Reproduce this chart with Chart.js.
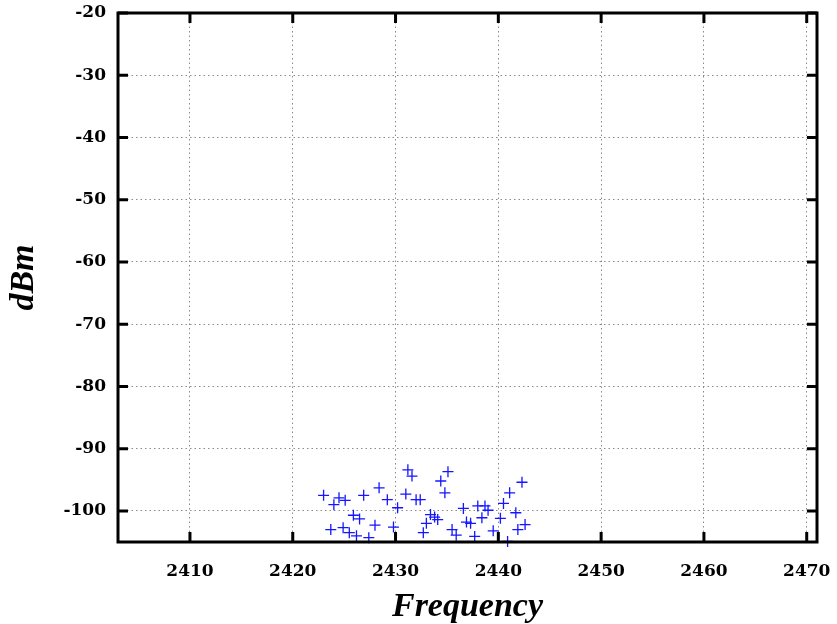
<!DOCTYPE html>
<html>
<head>
<meta charset="utf-8">
<script src="https://cdn.jsdelivr.net/npm/chart.js@4/dist/chart.umd.min.js"></script>
<style>
  html, body { margin: 0; padding: 0; background: #fff; }
  #wrap { width: 837px; height: 624px; }
</style>
</head>
<body>
<div id="wrap"><canvas id="scan"></canvas></div>
<script>
// frequency of each captured point
const freq = [
    2423.0, 2424.0, 2424.5, 2425.1, 2426.9, 2428.4, 2429.2, 2430.2, 2431.0, 2431.2,
    2431.6, 2432.0, 2432.4, 2425.9, 2426.5, 2423.7, 2424.9, 2425.5, 2426.2, 2427.4,
    2428.0, 2429.8, 2432.7, 2433.0, 2435.1, 2434.4, 2434.8, 2442.3, 2441.1, 2440.5,
    2441.7, 2436.6, 2438.0, 2438.7, 2439.0, 2438.4, 2440.2, 2436.9, 2437.3, 2433.4,
    2433.8, 2434.1, 2435.5, 2435.9, 2437.7, 2439.5, 2442.6, 2441.9, 2440.9
];
// power in dBm for the same points
const dbm = [
    -97.5, -99.0, -97.9, -98.3, -97.5, -96.3, -98.2, -99.5, -97.3, -93.4,
    -94.4, -98.2, -98.2, -100.7, -101.3, -103.0, -102.7, -103.5, -104.0, -104.3,
    -102.3, -102.6, -103.5, -102.0, -93.7, -95.2, -97.1, -95.4, -97.1, -98.8,
    -100.3, -99.6, -99.2, -99.2, -99.9, -101.1, -101.2, -101.8, -102.0, -100.6,
    -101.0, -101.4, -103.0, -103.9, -104.1, -103.2, -102.2, -103.0, -104.9
];
const xTicks = [2410, 2420, 2430, 2440, 2450, 2460, 2470];
const yTicks = [-20, -30, -40, -50, -60, -70, -80, -90, -100];

const tickFont = { family: '"DejaVu Serif", serif', size: 17, weight: 'bold' };
const titleFont = { family: '"Liberation Serif", "Times New Roman", serif', size: 34, weight: 'bold', style: 'italic', lineHeight: 1 };

// no extra room for edge labels, the layout padding handles it
function noEdgePad(s) {
    s.paddingLeft = 0;
    s.paddingRight = 0;
    s.paddingTop = 0;
    s.paddingBottom = 0;
}

// black frame plus inward ticks on all four sides
const frame = {
    id: 'frame',
    afterDraw(chart) {
        const { ctx, chartArea: a, scales } = chart;
        const len = 10;
        ctx.save();
        ctx.strokeStyle = '#000';
        ctx.lineWidth = 3;
        ctx.beginPath();
        xTicks.forEach(v => {
            const x = scales.x.getPixelForValue(v);
            ctx.moveTo(x, a.bottom); ctx.lineTo(x, a.bottom - len);
            ctx.moveTo(x, a.top); ctx.lineTo(x, a.top + len);
        });
        yTicks.forEach(v => {
            const y = scales.y.getPixelForValue(v);
            ctx.moveTo(a.left, y); ctx.lineTo(a.left + len, y);
            ctx.moveTo(a.right, y); ctx.lineTo(a.right - len, y);
        });
        ctx.stroke();
        ctx.strokeRect(a.left, a.top, a.right - a.left, a.bottom - a.top);
        ctx.restore();
    }
};

new Chart(document.getElementById('scan'), {
    type: 'scatter',
    data: {
        datasets: [{
            data: freq.map((f, i) => ({ x: f, y: dbm[i] })),
            pointStyle: 'cross',
            pointRadius: 5.5,
            pointBorderWidth: 1.3,
            borderColor: '#1515ff',
            backgroundColor: '#1515ff',
            clip: false
        }]
    },
    options: {
        responsive: true,
        maintainAspectRatio: false,
        animation: false,
        layout: { padding: { top: 13, right: 20, left: 0, bottom: 0 } },
        plugins: { legend: { display: false }, tooltip: { enabled: false } },
        scales: {
            x: {
                type: 'linear',
                min: 2403,
                max: 2471,
                afterBuildTicks: s => { s.ticks = xTicks.map(v => ({ value: v })); },
                afterFit: s => { s.height = 82; noEdgePad(s); },
                border: { display: false, dash: [1.5, 3] },
                grid: { color: '#8a8a8a', lineWidth: 1, drawTicks: false },
                ticks: { font: tickFont, color: '#000', padding: 19, maxRotation: 0, callback: v => String(v) },
                title: { display: true, text: 'Frequency', font: titleFont, color: '#000', padding: { top: 0, bottom: 0 } }
            },
            y: {
                type: 'linear',
                min: -105,
                max: -20,
                afterBuildTicks: s => { s.ticks = yTicks.map(v => ({ value: v })); },
                afterFit: s => { s.width = 118; noEdgePad(s); },
                border: { display: false, dash: [1.5, 3] },
                grid: { color: '#8a8a8a', lineWidth: 1, drawTicks: false },
                ticks: { font: tickFont, color: '#000', padding: 12, callback: v => String(v) },
                title: { display: true, text: 'dBm', font: titleFont, color: '#000', padding: { top: 7, bottom: 0 } }
            }
        }
    },
    plugins: [frame]
});
</script>
</body>
</html>
